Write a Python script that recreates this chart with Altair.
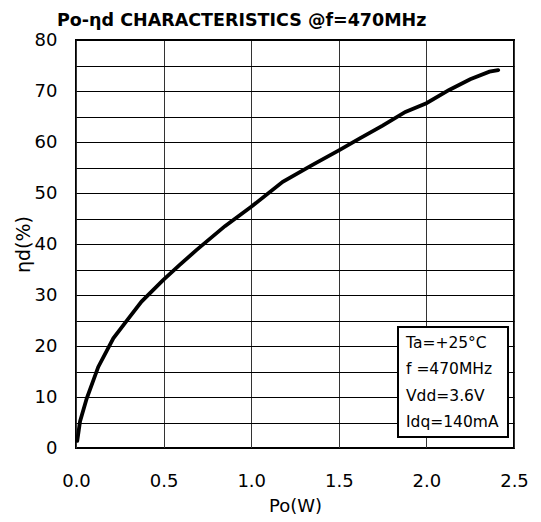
import altair as alt
import pandas as pd

po_w = [0.007, 0.023, 0.061, 0.127, 0.213, 0.30, 0.374, 0.497, 0.592, 0.687, 0.85, 1.0, 1.18, 1.35, 1.503, 1.62, 1.75, 1.88, 2.0, 2.13, 2.25, 2.36, 2.41]
eta_d = [1.4, 5.2, 9.7, 15.9, 21.5, 25.4, 28.7, 32.9, 35.9, 38.8, 43.5, 47.3, 52.2, 55.5, 58.4, 60.7, 63.2, 65.9, 67.6, 70.2, 72.3, 73.8, 74.1]
x_ticks = [0.0, 0.5, 1.0, 1.5, 2.0, 2.5]
y_grid = [0, 5, 10, 15, 20, 25, 30, 35, 40, 45, 50, 55, 60, 65, 70, 75, 80]
notes = ["Ta=+25°C", "f =470MHz", "Vdd=3.6V", "Idq=140mA"]
title_text = "Po-ηd CHARACTERISTICS @f=470MHz"

df = pd.DataFrame({"po": po_w, "eta": eta_d})
FONT = "DejaVu Sans"

x_enc = alt.X("po:Q", scale=alt.Scale(domain=[0, 2.5], nice=False),
              axis=alt.Axis(values=x_ticks, format=".1f", title="Po(W)", grid=True,
                            gridColor="#333", gridWidth=1, ticks=False, domain=False,
                            labelFlush=False, labelOverlap=False,
                            labelFontSize=18, labelPadding=24, titleFontSize=18,
                            titleFontWeight="normal", titlePadding=7,
                            labelFont=FONT, titleFont=FONT, labelColor="#000", titleColor="#000"))
y_enc = alt.Y("eta:Q", scale=alt.Scale(domain=[0, 80], nice=False),
              axis=alt.Axis(values=y_grid, labelExpr="datum.value % 10 == 0 ? datum.label : ''",
                            title="ηd(%)", grid=True, gridColor="#000", gridWidth=1,
                            labelFlush=False, labelOverlap=False,
                            ticks=False, domain=False, labelFontSize=18, labelPadding=19,
                            titleFontSize=19, titleFontWeight="normal", titlePadding=1,
                            labelFont=FONT, titleFont=FONT, labelColor="#000", titleColor="#000"))

line = alt.Chart(df).mark_line(color="#000", strokeWidth=3.8, strokeCap="round").encode(x=x_enc, y=y_enc)

box = alt.Chart(pd.DataFrame({"a": [0]})).mark_rect(fill="white", stroke="#000", strokeWidth=2).encode(
    x=alt.value(322), x2=alt.value(432), y=alt.value(287), y2=alt.value(397))

notes_df = pd.DataFrame({"t": notes, "i": list(range(len(notes)))})
note_text = alt.Chart(notes_df).mark_text(align="left", baseline="middle", fontSize=15.5, font=FONT, color="#000").encode(
    text="t:N", x=alt.value(330),
    y=alt.Y("i:Q", scale=alt.Scale(domain=[0, 3], range=[303, 382]), axis=None))

title = alt.Chart(pd.DataFrame({"t": [title_text]})).mark_text(
    align="left", baseline="alphabetic", fontSize=17.5, fontWeight="bold", font=FONT, color="#000").encode(
    text="t:N", x=alt.value(-19), y=alt.value(-14))

chart = alt.layer(line, box, note_text, title).resolve_scale(y="independent").properties(
    width=438, height=408,
    autosize=alt.AutoSizeParams(type="none"),
    padding={"left": 76, "top": 40, "right": 27, "bottom": 74},
    background="white",
).configure_view(stroke="#000", strokeWidth=2)

chart.save("out.html", embed_options={"renderer": "svg", "actions": False})
